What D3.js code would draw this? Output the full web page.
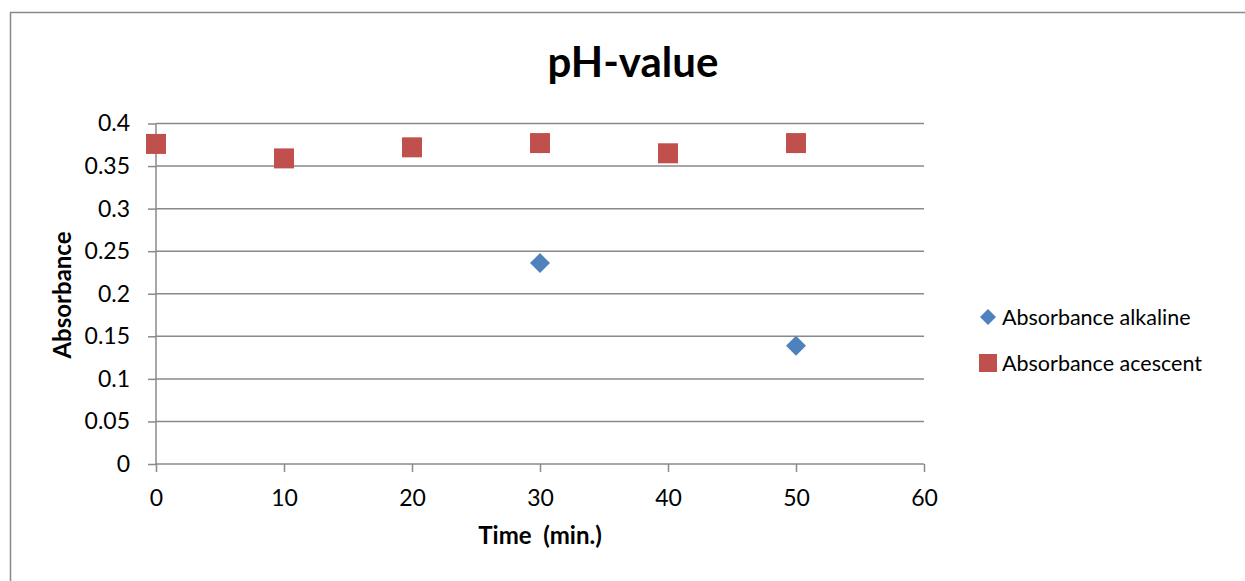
<!DOCTYPE html>
<html>
<head>
<meta charset="utf-8">
<script src="https://cdn.jsdelivr.net/npm/d3@7"></script>
<style>
  html, body { margin: 0; padding: 0; background: #fff; }
  svg { display: block; font-family: Lato, "Open Sans", sans-serif; }
</style>
</head>
<body>
<svg id="chart" width="1245" height="581"></svg>
<script>
const timeAlkaline = [30, 50];
const valuesAlkaline = [0.236, 0.139];
const timeAcescent = [0, 10, 20, 30, 40, 50];
const valuesAcescent = [0.376, 0.359, 0.372, 0.377, 0.365, 0.377];
const xTicks = [0, 10, 20, 30, 40, 50, 60];
const yTicks = [0, 0.05, 0.1, 0.15, 0.2, 0.25, 0.3, 0.35, 0.4];
const seriesNames = ["Absorbance alkaline", "Absorbance acescent"];
const colors = ["#4F81BD", "#C0504D"];

(function () {
const svg = d3.select("#chart");
const pLeft = 156, pRight = 924, pTop = 123.5, pBottom = 464;

// outer border
svg.append("rect").attr("x", 10.5).attr("y", 12.5).attr("width", 1260).attr("height", 600)
  .attr("fill", "none").attr("stroke", "#898989").attr("stroke-width", 1.5);

const x = d3.scaleLinear().domain([0, 60]).range([pLeft, pRight]);
const y = d3.scaleLinear().domain([0, 0.4]).range([pBottom, pTop]);

// gridlines
svg.append("g").selectAll("line").data(yTicks.filter(d => d > 0)).join("line")
  .attr("x1", pLeft).attr("x2", pRight)
  .attr("y1", d => y(d)).attr("y2", d => y(d))
  .attr("stroke", "#8a8a8a").attr("stroke-width", 1.5);

// y axis
const yAxis = d3.axisLeft(y).tickValues(yTicks).tickSize(8).tickPadding(18)
  .tickFormat(d => String(+d.toFixed(2)));
const gy = svg.append("g").attr("transform", `translate(${pLeft},0)`).call(yAxis);
gy.select(".domain").attr("stroke", "#8a8a8a").attr("stroke-width", 1.5).attr("d", `M0,${pBottom}V${pTop}`);
gy.selectAll(".tick line").attr("stroke", "#8a8a8a").attr("stroke-width", 1.5);
gy.selectAll(".tick text").attr("font-size", 23).attr("fill", "#000").attr("font-family", "Lato, sans-serif");

// x axis
const xAxis = d3.axisBottom(x).tickValues(xTicks).tickSize(8).tickPadding(18);
const gx = svg.append("g").attr("transform", `translate(0,${pBottom})`).call(xAxis);
gx.select(".domain").attr("stroke", "#8a8a8a").attr("stroke-width", 1.5).attr("d", `M${pLeft},0H${pRight}`);
gx.selectAll(".tick line").attr("stroke", "#8a8a8a").attr("stroke-width", 1.5);
gx.selectAll(".tick text").attr("font-size", 23).attr("fill", "#000").attr("font-family", "Lato, sans-serif");

// title
svg.append("text").attr("x", 633).attr("y", 77).attr("text-anchor", "middle")
  .attr("font-size", 42).attr("font-weight", "bold").text("pH-value");

// axis titles
svg.append("text").attr("x", 540).attr("y", 544).attr("text-anchor", "middle")
  .attr("font-size", 24).attr("font-weight", "bold").attr("xml:space", "preserve").text("Time  (min.)");
svg.append("text").attr("transform", "translate(71,295) rotate(-90)").attr("text-anchor", "middle")
  .attr("font-size", 24).attr("font-weight", "bold").text("Absorbance");

// points
const diamond = d3.symbol().type(d3.symbolSquare).size(200);
svg.append("g").selectAll("path").data(timeAlkaline.map((t, i) => [t, valuesAlkaline[i]])).join("path")
  .attr("d", diamond)
  .attr("transform", d => `translate(${x(d[0])},${y(d[1])}) rotate(45)`)
  .attr("fill", colors[0]);
const sq = 20;
svg.append("g").selectAll("rect").data(timeAcescent.map((t, i) => [t, valuesAcescent[i]])).join("rect")
  .attr("x", d => x(d[0]) - sq / 2).attr("y", d => y(d[1]) - sq / 2)
  .attr("width", sq).attr("height", sq).attr("fill", colors[1]);

// legend
const lg = svg.append("g");
const rows = [317, 363];
lg.append("path").attr("d", d3.symbol().type(d3.symbolSquare).size(128))
  .attr("transform", `translate(988,${rows[0]}) rotate(45)`).attr("fill", colors[0]);
lg.append("rect").attr("x", 979).attr("y", rows[1] - 9).attr("width", 18).attr("height", 18).attr("fill", colors[1]);
seriesNames.forEach((n, i) => {
  lg.append("text").attr("x", 1002).attr("y", rows[i]).attr("dy", "0.35em")
    .attr("font-size", 21.5).text(n);
});
})();
</script>
</body>
</html>
